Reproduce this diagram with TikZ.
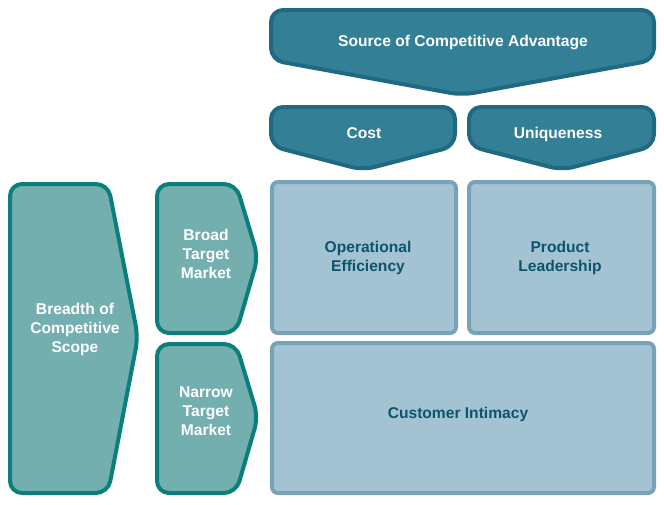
\documentclass[tikz,border=0pt]{standalone}
\usepackage{fontspec}
\setmainfont{Liberation Sans}
\definecolor{topfill}{HTML}{337F96}
\definecolor{topdraw}{HTML}{1F6A80}
\definecolor{leftfill}{HTML}{74AFAF}
\definecolor{leftdraw}{HTML}{0A7F7B}
\definecolor{boxfill}{HTML}{A3C2D2}
\definecolor{boxdraw}{HTML}{77A3B9}
\definecolor{boxtext}{HTML}{0B556E}
\tikzset{
  topshape/.style={fill=topfill,draw=topdraw,line width=4pt,rounded corners=12pt,line join=round},
  leftshape/.style={fill=leftfill,draw=leftdraw,line width=4pt,rounded corners=12pt,line join=round},
  boxshape/.style={fill=boxfill,draw=boxdraw,line width=4pt,rounded corners=6pt},
  whitelabel/.style={text=white,font=\bfseries\fontsize{15.6}{19}\selectfont,align=center,inner sep=0pt},
  darklabel/.style={text=boxtext,font=\bfseries\fontsize{15.6}{19}\selectfont,align=center,inner sep=0pt}
}
\begin{document}
\begin{tikzpicture}[x=1pt,y=-1pt]
\useasboundingbox (0,0) rectangle (664,504);
% top arrows
\draw[topshape] (271,10) -- (654,10) -- (654,60) -- (462,95) -- (271,60) -- cycle;
\draw[topshape] (271,107) -- (455,107) -- (455,146) -- (363,170) -- (271,146) -- cycle;
\draw[topshape] (469,107) -- (654,107) -- (654,146) -- (562,170) -- (469,146) -- cycle;
% left arrows
\draw[leftshape] (10,184) -- (108,184) -- (138,337) -- (108,493) -- (10,493) -- cycle;
\draw[leftshape] (157,184) -- (236,184) -- (258,257) -- (236,333) -- (157,333) -- cycle;
\draw[leftshape] (157,344) -- (236,344) -- (258,417) -- (236,493) -- (157,493) -- cycle;
% boxes
\draw[boxshape] (272,182) rectangle (456,333);
\draw[boxshape] (469,182) rectangle (654,333);
\draw[boxshape] (272,343) rectangle (654,493);
% labels
\node[whitelabel,anchor=base] (src) at (463,46) {Source of Competitive Advantage};
\node[whitelabel,anchor=base] (cost) at (364,138) {Cost};
\node[whitelabel,anchor=base] (uniq) at (558,138) {Uniqueness};
\node[whitelabel] (breadth) at (75,329) {Breadth of\\Competitive\\Scope};
\node[whitelabel] (broad) at (206,254) {Broad\\Target\\Market};
\node[whitelabel] (narrow) at (206,411) {Narrow\\Target\\Market};
\node[darklabel] (opeff) at (368,258) {Operational\\Efficiency};
\node[darklabel] (prodlead) at (560,258) {Product\\Leadership};
\node[darklabel,anchor=base] (custint) at (458,418) {Customer Intimacy};
\end{tikzpicture}
\end{document}
